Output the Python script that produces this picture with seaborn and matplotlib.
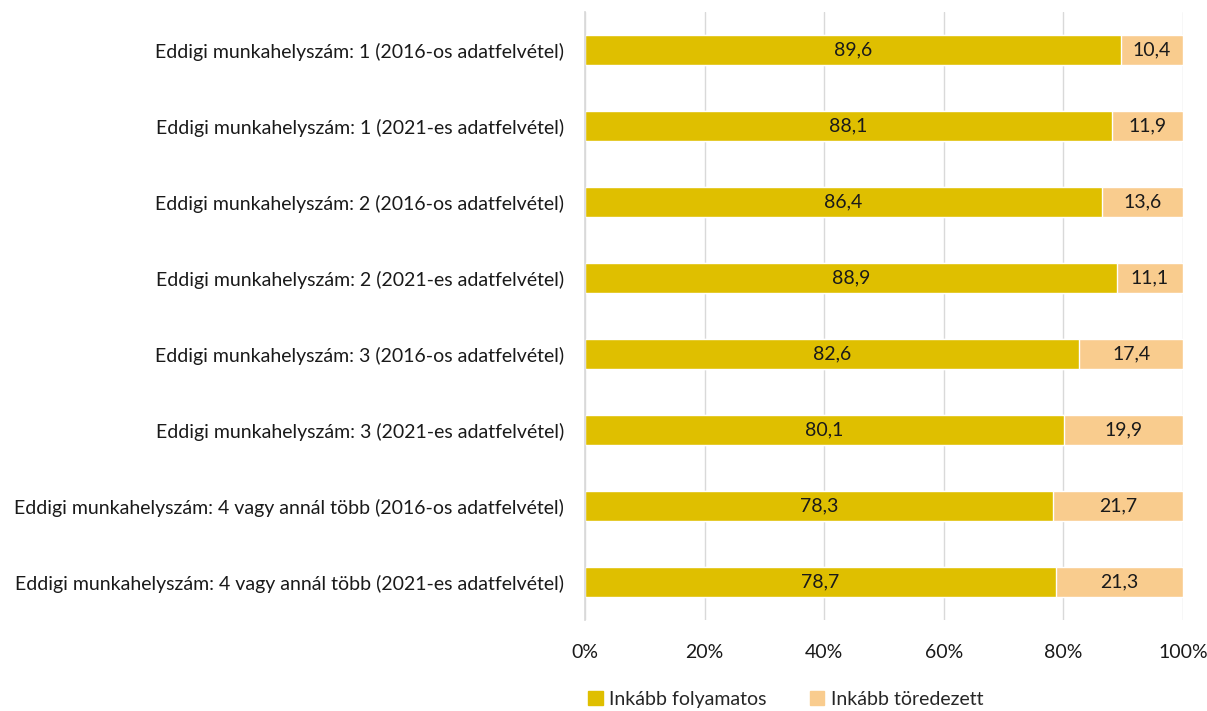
import matplotlib
matplotlib.use("Agg")
import matplotlib.pyplot as plt
import seaborn as sns
import pandas as pd
from matplotlib.patches import Patch
from matplotlib.ticker import PercentFormatter

categories = [
    "Eddigi munkahelyszám: 1 (2016-os adatfelvétel)",
    "Eddigi munkahelyszám: 1 (2021-es adatfelvétel)",
    "Eddigi munkahelyszám: 2 (2016-os adatfelvétel)",
    "Eddigi munkahelyszám: 2 (2021-es adatfelvétel)",
    "Eddigi munkahelyszám: 3 (2016-os adatfelvétel)",
    "Eddigi munkahelyszám: 3 (2021-es adatfelvétel)",
    "Eddigi munkahelyszám: 4 vagy annál több (2016-os adatfelvétel)",
    "Eddigi munkahelyszám: 4 vagy annál több (2021-es adatfelvétel)",
]
folyamatos = [89.6, 88.1, 86.4, 88.9, 82.6, 80.1, 78.3, 78.7]
toredezett = [10.4, 11.9, 13.6, 11.1, 17.4, 19.9, 21.7, 21.3]
series_names = ["Inkább folyamatos", "Inkább töredezett"]

c1 = "#DFBF00"
c2 = "#F9CC8E"

sns.set_theme(style="white")
plt.rcParams["font.family"] = ["Lato", "DejaVu Sans"]

df = pd.DataFrame({"cat": categories, "a": folyamatos, "b": toredezett})
df["total"] = df["a"] + df["b"]

fig = plt.figure(figsize=(12.07, 7.11), dpi=100)
ax = fig.add_axes([0.4847, 0.128, 0.4955, 0.855])

sns.barplot(data=df, y="cat", x="total", color=c2, width=0.4, ax=ax, saturation=1, orient="h")
sns.barplot(data=df, y="cat", x="a", color=c1, width=0.4, ax=ax, saturation=1, orient="h")

fs = 14
for i, (a, b) in enumerate(zip(folyamatos, toredezett)):
    ax.text(a / 2, i, f"{a:.1f}".replace(".", ","), ha="center", va="center", fontsize=fs, color="#1a1a1a")
    ax.text(a + b / 2, i, f"{b:.1f}".replace(".", ","), ha="center", va="center", fontsize=fs, color="#1a1a1a")

ax.set_xlim(0, 100)
ax.set_ylim(7.5, -0.5)
ax.set_xticks([0, 20, 40, 60, 80, 100])
ax.xaxis.set_major_formatter(PercentFormatter(decimals=0))
ax.grid(axis="x", color="#d9d9d9", linewidth=1)
ax.set_axisbelow(True)
for s in ["top", "right", "bottom"]:
    ax.spines[s].set_visible(False)
ax.spines["left"].set_color("#d9d9d9")
ax.set_xlabel("")
ax.set_ylabel("")
ax.tick_params(axis="x", labelsize=fs, colors="#1a1a1a", pad=17, length=0)
ax.tick_params(axis="y", labelsize=fs, colors="#1a1a1a", pad=15, length=0)

handles = [Patch(color=c1, label=series_names[0]), Patch(color=c2, label=series_names[1])]
fig.legend(handles=handles, loc="center", bbox_to_anchor=(0.651, 0.016), ncol=2, frameon=False,
           fontsize=fs, handlelength=0.75, handleheight=0.75, columnspacing=2.2, handletextpad=0.35)

fig.savefig("out.png", dpi=100)
